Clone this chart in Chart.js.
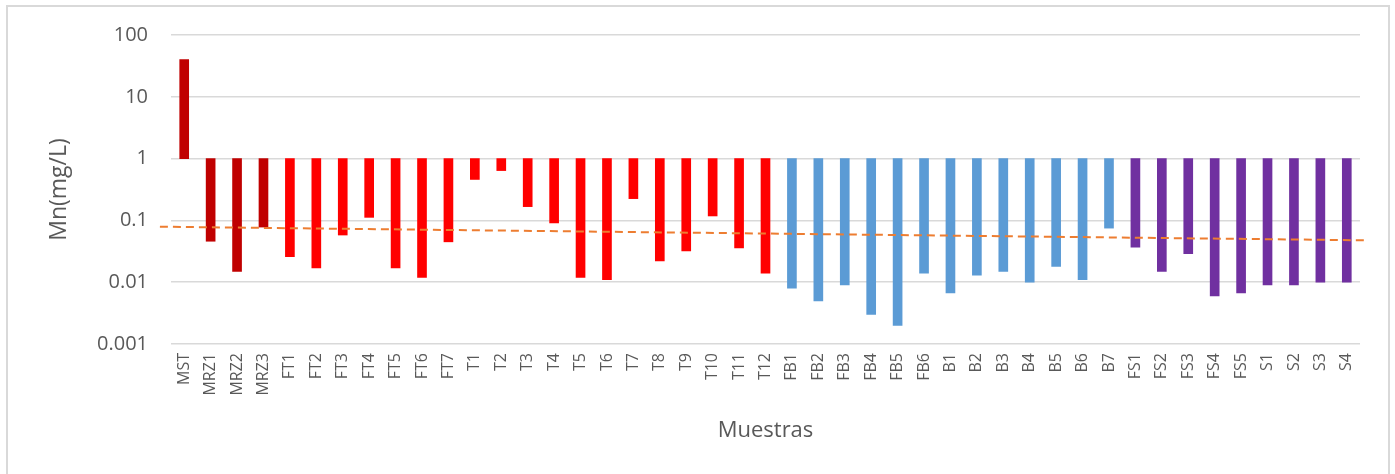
<!DOCTYPE html>
<html>
<head>
<meta charset="utf-8">
<script src="https://cdn.jsdelivr.net/npm/chart.js@4/dist/chart.umd.min.js"></script>
<style>
  html, body { margin: 0; padding: 0; background: #ffffff; }
  #wrap { position: relative; width: 1395px; height: 474px; overflow: hidden; }
  #frame { position: absolute; left: 6px; top: 5px; width: 1380px; height: 480px;
           border: 2px solid #d9d9d9; box-sizing: content-box; }
  #c { position: absolute; left: 0; top: 0; }
</style>
</head>
<body>
<div id="wrap">
  <div id="frame"></div>
  <canvas id="c" width="1395" height="474"></canvas>
</div>
<script>
// Sample identifiers along the horizontal axis
const muestras = [
  'MST', 'MRZ1', 'MRZ2', 'MRZ3',
  'FT1', 'FT2', 'FT3', 'FT4', 'FT5', 'FT6', 'FT7',
  'T1', 'T2', 'T3', 'T4', 'T5', 'T6', 'T7', 'T8', 'T9', 'T10', 'T11', 'T12',
  'FB1', 'FB2', 'FB3', 'FB4', 'FB5', 'FB6',
  'B1', 'B2', 'B3', 'B4', 'B5', 'B6', 'B7',
  'FS1', 'FS2', 'FS3', 'FS4', 'FS5',
  'S1', 'S2', 'S3', 'S4'
];

// Sample group of each identifier
const grupos = [
  'M', 'M', 'M', 'M',
  'T', 'T', 'T', 'T', 'T', 'T', 'T',
  'T', 'T', 'T', 'T', 'T', 'T', 'T', 'T', 'T', 'T', 'T', 'T',
  'B', 'B', 'B', 'B', 'B', 'B',
  'B', 'B', 'B', 'B', 'B', 'B', 'B',
  'S', 'S', 'S', 'S', 'S',
  'S', 'S', 'S', 'S'
];

// Manganese concentration (mg/L)
const mn = [
  40, 0.046, 0.015, 0.078,
  0.026, 0.017, 0.058, 0.112, 0.017, 0.012, 0.045,
  0.46, 0.64, 0.167, 0.091, 0.012, 0.011, 0.225, 0.022, 0.032, 0.118, 0.036, 0.014,
  0.008, 0.005, 0.009, 0.003, 0.002, 0.014,
  0.0067, 0.013, 0.015, 0.01, 0.018, 0.011, 0.075,
  0.037, 0.015, 0.029, 0.006, 0.0067,
  0.009, 0.009, 0.01, 0.01
];

// Trend line end points (sample position, mg/L)
const tendenciaX = [-0.92, 44.8];
const tendenciaY = [0.079, 0.0476];

// Log axis labels
const yTicks = [0.001, 0.01, 0.1, 1, 10, 100];

const colorGrupo = { M: '#c00000', T: '#ff0000', B: '#5b9bd5', S: '#7030a0' };
const barColors = grupos.map(g => colorGrupo[g]);
// The log axis crosses at 1, so every bar starts from 1
const barData = mn.map(v => [1, v]);
const trendData = tendenciaX.map((x, i) => ({ x: x, y: tendenciaY[i] }));

const FONT = "'Open Sans', 'DejaVu Sans', sans-serif";
const TXT = '#595959';

new Chart(document.getElementById('c'), {
  data: {
    labels: muestras,
    datasets: [
      {
        type: 'line',
        label: 'Tendencia',
        data: trendData,
        xAxisID: 'xt',
        yAxisID: 'y',
        borderColor: '#ed7d31',
        borderWidth: 2,
        borderDash: [8, 5],
        pointRadius: 0,
        fill: false,
        clip: false,
        order: 0
      },
      {
        type: 'bar',
        label: 'Mn(mg/L)',
        data: barData,
        xAxisID: 'x',
        yAxisID: 'y',
        backgroundColor: barColors,
        borderWidth: 0,
        grouped: false,
        barThickness: 9,
        order: 1
      }
    ]
  },
  options: {
    responsive: false,
    animation: false,
    events: [],
    layout: { padding: { left: 42, top: 35, right: 35, bottom: 26 } },
    plugins: { legend: { display: false }, tooltip: { enabled: false } },
    scales: {
      x: {
        type: 'category',
        offset: true,
        grid: { display: false, drawTicks: false },
        border: { display: false },
        ticks: {
          color: TXT,
          font: { family: FONT, size: 16 },
          minRotation: 90,
          maxRotation: 90,
          autoSkip: false,
          padding: 9
        },
        title: {
          display: true,
          text: 'Muestras',
          color: TXT,
          font: { family: FONT, size: 22 },
          padding: { top: 0, bottom: 4 }
        },
        afterFit: s => { s.height = 104; }
      },
      xt: {
        type: 'linear',
        display: false,
        min: -0.5,
        max: 44.5
      },
      y: {
        type: 'logarithmic',
        min: 0.001,
        max: 100,
        grid: { color: '#d9d9d9', lineWidth: 1.5, drawTicks: false },
        border: { display: false },
        afterBuildTicks: s => { s.ticks = yTicks.map(v => ({ value: v })); },
        ticks: {
          color: TXT,
          font: { family: FONT, size: 20 },
          padding: 23,
          callback: v => String(v)
        },
        title: {
          display: true,
          text: 'Mn(mg/L)',
          color: TXT,
          font: { family: FONT, size: 23 },
          padding: { top: 4, bottom: 0 }
        },
        afterFit: s => { s.width = 129; }
      }
    }
  }
});
</script>
</body>
</html>
